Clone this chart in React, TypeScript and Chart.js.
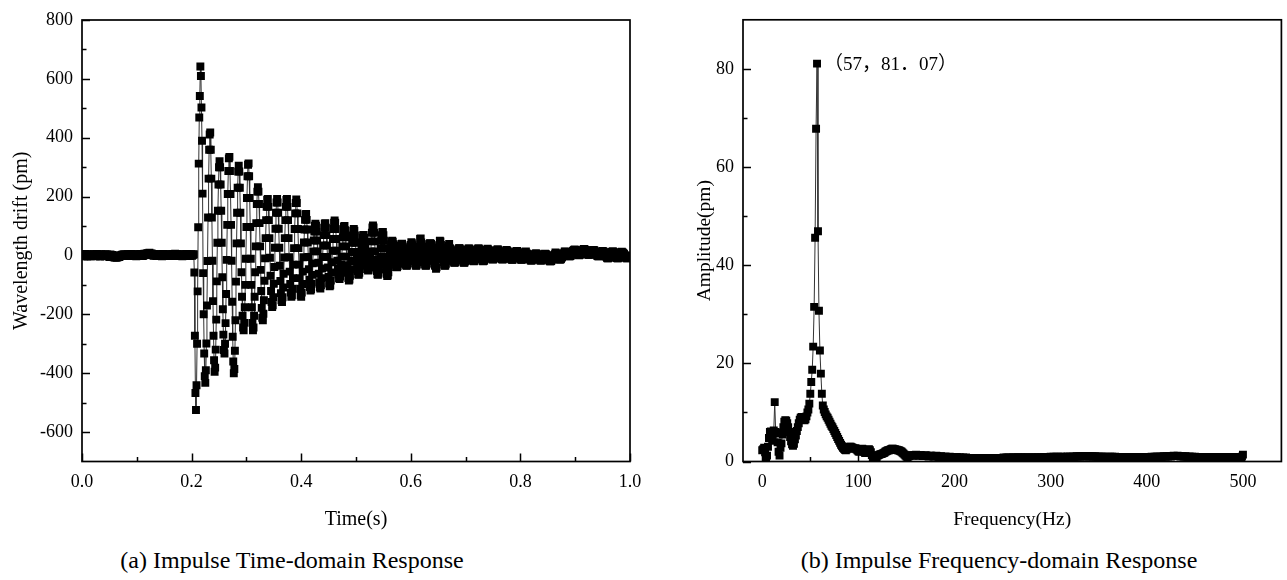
import React, { useEffect, useRef } from "react";
import { Chart, registerables } from "chart.js";

Chart.register(...registerables);

const SERIF = "'Liberation Serif', 'Times New Roman', serif";
const ANNOT_FONT = "'Liberation Serif', 'Noto Sans CJK SC', serif";

// ---------------- (a) time-domain response, sampled every 1 ms ----------------
const SAMPLE_INTERVAL_S = 0.001;

// 0.000 – 0.204 s : quiet baseline
const DRIFT_BEFORE_IMPULSE = [
  3, -2, 4, 1, -3, 2, 5, -1, 0, 3, -4, 2, 1, -2, 4, 0, -3, 3, 2, -1,
  1, 4, -2, 0, 3, -3, 2, 5, -1, 1, -2, 3, 0, -4, 2, 4, -1, 1, 3, -2,
  0, 2, -3, 4, 1, -1, 3, -2, 2, 0, -5, 1, 3, -3, -1, 2, -4, 0, -6, -2,
  -7, -3, -5, -8, -2, -6, -4, -1, -5, -3, 0, -2, 2, -1, 3, 1, -2, 4, 0, 2,
  -1, 3, 1, -2, 4, 2, 0, 3, -1, 2, 5, 1, -2, 3, 0, 4, -1, 2, 1, -3,
  2, 0, 4, -2, 1, 3, -1, 5, 2, 0, 3, -2, 4, 1, 6, 2, 5, 3, 7, 4,
  8, 5, 3, 9, 4, 6, 2, 7, 5, 1, 4, -1, 3, 2, 0, 4, -2, 1, 3, -1,
  2, 4, 0, -2, 3, 1, -3, 2, 5, 0, 3, -1, 2, 4, 1, -2, 3, 0, 2, -1,
  1, 3, -2, 4, 0, 2, 5, 1, -1, 3, 6, 2, 4, 0, 3, -2, 1, 4, 2, 0,
  -1, 3, 1, -3, 2, 4, 0, 2, -2, 3, 1, 5, 2, -1, 0, 3, 1, -2, 2, 4,
  1, -1, 3, 2, 4,
];

// 0.205 – 0.211 s : impulse onset
const DRIFT_ONSET = [-58, -273, -467, -525, -441, -300, -122];

// 0.212 – 0.386 s : strong ringing
const DRIFT_RING_A = [
  96, 312, 469, 542, 642, 610, 503, 390, 210,
  -60, -200, -333, -410, -433, -390, -299, -170, -19,
  129, 261, 359, 411, 418, 359, 261, 129,
  -18, -155, -273, -356, -395, -381, -320, -218, -88,
  43, 152, 241, 300, 320, 300, 241, 152, 43,
  -74, -183, -269, -321, -333, -300, -230, -131, -15,
  104, 209, 287, 330, 335, 287, 209, 104,
  -18, -157, -276, -360, -400, -386, -324, -220, -89,
  41, 145, 230, 285, 305, 285, 230, 145, 41,
  -57, -140, -205, -245, -254, -229, -176, -100, -11,
  97, 195, 269, 308, 313, 269, 195, 97,
  -11, -100, -176, -229, -254, -245, -205, -140, -57,
  31, 110, 175, 217, 232, 217, 175, 110, 31,
  -49, -121, -178, -212, -220, -198, -152, -86, -10,
  59, 120, 165, 189, 192, 165, 120, 59,
  -8, -69, -121, -158, -175, -169, -142, -96, -39,
  26, 91, 145, 180, 192, 180, 145, 91, 26,
  -35, -87, -128, -152, -158, -142, -109, -62, -7,
  59, 120, 165, 189, 192, 165, 120, 59,
  -6, -55, -97, -126, -140, -135, -113, -77, -31,
];

// 0.387 – 0.596 s : decaying ringing
const DRIFT_RING_B = [
  25, 90, 143, 178, 190, 178, 143, 90, 25,
  -31, -77, -113, -135, -140, -126, -97, -55, -6,
  44, 88, 121, 139, 141, 121, 88, 44,
  -5, -47, -82, -107, -119, -115, -96, -66, -27,
  14, 51, 81, 101, 108, 101, 81, 51, 14,
  -25, -62, -91, -108, -112, -101, -77, -44, -5,
  34, 69, 94, 108, 110, 94, 69, 34,
  -5, -41, -73, -95, -105, -101, -85, -58, -23,
  16, 56, 90, 111, 119, 111, 90, 56, 16,
  -18, -44, -65, -77, -80, -72, -55, -31, -4,
  31, 62, 86, 98, 100, 86, 62, 31,
  -4, -33, -59, -77, -85, -82, -69, -47, -19,
  12, 43, 68, 84, 90, 84, 68, 43, 12,
  -15, -36, -53, -64, -66, -59, -46, -26, -3,
  22, 44, 60, 69, 70, 60, 44, 22,
  -2, -20, -35, -46, -51, -49, -41, -28, -11,
  14, 48, 77, 95, 102, 95, 77, 48, 14,
  -15, -36, -53, -64, -66, -59, -46, -26, -3,
  25, 50, 69, 79, 80, 69, 50, 25,
  -3, -28, -48, -63, -70, -67, -57, -39, -16,
  7, 24, 38, 47, 50, 47, 38, 24, 7,
  -9, -22, -32, -39, -40, -36, -28, -16, -2,
  12, 25, 34, 39, 40, 34, 25, 12,
  -2, -14, -24, -32, -35, -34, -28, -19, -8,
];

// 0.597 – 0.775 s : residual vibration
const DRIFT_TAIL_A = [
  8, 20, 29, 36,
  45, 42, 35, 24, 10, -4, -17, -27, -34, -35, -31, -23, -11, 3, 17, 30, 56, 58, 44, 39, 30, 17, 3, -11, -23, -31, -35, -34, -27, -17, -4, 10, 24, 35, 42,
  41, 39, 32, 21, 8, -5, -18, -28, -34, -35, -45, -40, -12, 1, 15, 27, 36, 50, 48, 36, 27, 15, 1, -12, -23, -31, -35, -34, -28, -18, -5, 8, 21, 32, 39,
  25, 23, 19, 12, 3, -6, -14, -20, -24, -25, -23, -17, -10, -1, 8, 16, 21, 25, 25, 21, 16, 8, -1, -10, -17, -23, -25, -24, -20, -14, -6, 3, 12, 19, 23,
  24, 23, 19, 12, 5, -3, -10, -16, -19, -20, -18, -13, -7, 1, 9, 16, 21, 24, 24, 21, 16, 9, 1, -7, -13, -18, -20, -19, -16, -10, -3, 5, 12, 19, 23,
  20, 19, 16, 11, 5, -1, -6, -11, -13, -14, -12, -9, -4, 2, 8, 14, 18, 20, 20, 18, 14, 8, 2, -4, -9, -12, -14, -13, -11, -6, -1, 5, 11, 16, 19,
];

// 0.776 – 0.999 s : residual vibration
const DRIFT_TAIL_B = [
  15, 14, 11, 7, 2, -3, -8, -12, -14, -15, -14, -10, -6, -1, 5, 9, 13, 15, 15, 13, 9, 5, -1, -6, -10, -14, -15, -14, -12, -8, -3, 2, 7, 11, 14,
  7, 6, 4, 1, -3, -8, -12, -15, -17, -17, -16, -13, -10, -6, -1, 2, 5, 7, 7, 5, 2, -1, -6, -10, -13, -16, -17, -17, -15, -12, -8, -3, 1, 4, 6,
  4, 3, 1, -2, -6, -11, -15, -18, -20, -20, -19, -16, -13, -9, -5, -1, 2, 4, 10, 8, 5, 2, -3, -7, -10, -13, -14, -14, -12, -9, -5, 0, 4, 7, 9,
  14, 13, 11, 9, 6, 3, 0, -2, -3, -3, -2, 0, 3, 7, 11, 15, 17, 19, 20, 19, 17, 14, 10, 7, 4, 2, 1, 2, 3, 6, 9, 13, 16, 18, 20,
  22, 21, 19, 16, 13, 10, 6, 4, 2, 2, 3, 4, 6, 9, 13, 16, 18, 19, 18, 17, 14, 11, 7, 3, 0, -2, -3, -3, -2, 0, 3, 7, 10, 13, 15,
  14, 13, 11, 8, 4, -1, -5, -8, -10, -10, -9, -6, -3, 1, 6, 9, 12, 14, 14, 12, 9, 6, 1, -3, -6, -9, -10, -10, -8, -5, -1, 4, 8, 11, 13,
  10, 9, 8, 5, 1, -2, -6, -8, -10, -10, -9, -7, -4, 0,
];

// ---------------- (b) frequency-domain response, 1 Hz bins ----------------
const FREQ_STEP_HZ = 1;

// 0 – 100 Hz
const AMP_LOW = [
  2.3, 2.5, 2.8, 1.9, 0.6, 1.2, 3.0, 4.8, 6.0, 6.1,
  5.9, 4.2, 6.3, 12.1, 6.0, 5.8, 3.9, 2.0, 1.2, 2.8,
  3.7, 5.5, 7.0, 8.1, 8.4, 8.3, 7.8, 7.0, 6.0, 5.0,
  4.1, 3.5, 3.2, 3.6, 4.5, 5.3, 6.2, 7.0, 7.8, 8.5,
  8.9, 9.1, 8.9, 8.6, 8.4, 8.6, 9.2, 10.0, 10.6, 11.8,
  13.8, 16.2, 18.7, 23.4, 31.5, 45.6, 67.8, 81.07, 46.9, 30.7,
  22.6, 17.9, 13.8, 11.4, 10.6, 10.1, 9.6, 9.2, 8.9, 8.5,
  8.1, 7.7, 7.3, 7.0, 6.6, 6.2, 5.8, 5.4, 5.0, 4.6,
  4.2, 3.8, 3.4, 3.1, 2.8, 2.6, 2.4, 2.3, 2.5, 2.7,
  2.9, 3.0, 3.0, 2.9, 2.8, 2.7, 2.6, 2.7, 2.5, 2.3,
  2.1,
];

// 101 – 200 Hz
const AMP_MID = [
  2.0, 2.2, 2.5, 2.6, 2.4, 2.0, 1.7, 1.8, 2.1, 2.4,
  2.5, 2.3, 1.9, 1.3, 0.8, 0.5, 0.4, 0.6, 0.9, 1.2,
  1.3, 1.4, 1.5, 1.5, 1.6, 1.7, 1.8, 2.0, 2.1, 2.2,
  2.3, 2.3, 2.4, 2.5, 2.6, 2.6, 2.5, 2.5, 2.4, 2.4,
  2.3, 2.3, 2.2, 2.1, 2.0, 1.8, 1.6, 1.4, 1.2, 1.0,
  0.9, 1.0, 1.1, 1.2, 1.3, 1.3, 1.2, 1.2, 1.3, 1.4,
  1.3, 1.2, 1.2, 1.3, 1.3, 1.2, 1.1, 1.1, 1.2, 1.3,
  1.2, 1.1, 1.0, 1.1, 1.2, 1.2, 1.1, 1.0, 1.0, 1.1,
  1.2, 1.1, 1.0, 0.9, 1.0, 1.1, 1.0, 0.9, 0.9, 1.0,
  1.0, 0.9, 0.8, 0.9, 1.0, 0.9, 0.8, 0.8, 0.9, 0.9,
];

// 201 – 500 Hz
const AMP_HIGH = [
  0.8, 0.9, 0.8, 0.7, 0.8, 0.8, 0.7, 0.7, 0.8, 0.7,
  0.7, 0.8, 0.7, 0.6, 0.7, 0.7, 0.6, 0.7, 0.7, 0.6,
  0.6, 0.7, 0.6, 0.6, 0.7, 0.6, 0.6, 0.7, 0.6, 0.6,
  0.7, 0.6, 0.6, 0.6, 0.7, 0.6, 0.6, 0.7, 0.6, 0.7,
  0.6, 0.6, 0.7, 0.6, 0.6, 0.7, 0.7, 0.6, 0.7, 0.7,
  0.8, 0.7, 0.7, 0.8, 0.7, 0.8, 0.7, 0.7, 0.8, 0.7,
  0.8, 0.8, 0.7, 0.8, 0.7, 0.8, 0.8, 0.7, 0.8, 0.8,
  0.7, 0.8, 0.8, 0.7, 0.8, 0.8, 0.7, 0.8, 0.7, 0.8,
  0.8, 0.7, 0.8, 0.8, 0.7, 0.8, 0.8, 0.8, 0.7, 0.8,
  0.8, 0.8, 0.9, 0.8, 0.8, 0.9, 0.8, 0.9, 0.9, 1.0,
  0.9, 0.9, 1.0, 0.9, 0.9, 1.0, 0.9, 1.0, 0.9, 0.9,
  1.0, 0.9, 0.9, 1.0, 0.9, 0.9, 1.0, 1.0, 0.9, 1.0,
  0.9, 1.0, 1.0, 0.9, 1.0, 1.0, 1.1, 1.0, 1.0, 1.1,
  1.0, 1.1, 1.1, 1.0, 1.1, 1.1, 1.0, 1.1, 1.1, 1.0,
  1.1, 1.0, 1.1, 1.0, 1.0, 1.1, 1.0, 1.0, 0.9, 1.0,
  1.0, 0.9, 1.0, 1.0, 0.9, 1.0, 0.9, 0.9, 1.0, 0.9,
  0.9, 1.0, 0.9, 1.0, 0.9, 0.9, 1.0, 0.9, 0.9, 0.8,
  0.9, 0.9, 0.8, 0.9, 0.9, 0.8, 0.9, 0.8, 0.8, 0.9,
  0.8, 0.8, 0.9, 0.8, 0.8, 0.9, 0.8, 0.9, 0.8, 0.8,
  0.8, 0.9, 0.8, 0.8, 0.9, 0.8, 0.9, 0.9, 0.8, 0.9,
  0.9, 0.8, 0.9, 0.9, 1.0, 0.9, 0.9, 1.0, 0.9, 1.0,
  1.0, 0.9, 1.0, 1.0, 0.9, 1.0, 1.0, 1.1, 1.0, 1.0,
  1.1, 1.0, 1.1, 1.1, 1.0, 1.1, 1.1, 1.2, 1.1, 1.1,
  1.1, 1.2, 1.1, 1.1, 1.0, 1.1, 1.1, 1.0, 1.0, 1.1,
  1.0, 1.0, 0.9, 1.0, 1.0, 0.9, 1.0, 0.9, 0.9, 1.0,
  0.9, 0.9, 0.8, 0.9, 0.9, 0.8, 0.9, 0.9, 0.8, 0.9,
  0.8, 0.9, 0.9, 0.8, 0.8, 0.9, 0.8, 0.8, 0.9, 0.8,
  0.8, 0.9, 0.8, 0.8, 0.8, 0.9, 0.8, 0.8, 0.9, 0.8,
  0.8, 0.8, 0.9, 0.8, 0.8, 0.9, 0.8, 0.8, 0.8, 0.9,
  0.8, 0.8, 0.9, 0.8, 0.8, 0.9, 0.8, 0.9, 1.0, 1.4,
];

const PEAK_FREQ = 57;
const PEAK_AMP = 81.07;
const PEAK_LABEL = "（57，81．07）";

// ticks
const TIME_MAJOR = [0, 0.2, 0.4, 0.6, 0.8, 1.0];
const TIME_MINOR = [0.1, 0.3, 0.5, 0.7, 0.9];
const DRIFT_MAJOR = [-600, -400, -200, 0, 200, 400, 600, 800];
const DRIFT_MINOR = [-500, -300, -100, 100, 300, 500, 700];
const FREQ_MAJOR = [0, 100, 200, 300, 400, 500];
const FREQ_MINOR = [50, 150, 250, 350, 450];
const AMP_MAJOR = [0, 20, 40, 60, 80];
const AMP_MINOR = [10, 30, 50, 70];

function frameTicksPlugin(xMajor: number[], xMinor: number[], yMajor: number[], yMinor: number[]) {
  return {
    id: "frameTicks",
    afterDatasetsDraw(chart: any) {
      const { ctx, chartArea: a, scales } = chart;
      const xs = scales.x;
      const ys = scales.y;
      ctx.save();
      ctx.strokeStyle = "#000";
      ctx.lineWidth = 1.5;
      ctx.beginPath();
      const tick = (len: number, vals: number[], horiz: boolean) => {
        for (const v of vals) {
          if (horiz) {
            const px = Math.round(xs.getPixelForValue(v)) + 0.5;
            ctx.moveTo(px, a.bottom);
            ctx.lineTo(px, a.bottom - len);
          } else {
            const py = Math.round(ys.getPixelForValue(v)) + 0.5;
            ctx.moveTo(a.left, py);
            ctx.lineTo(a.left + len, py);
          }
        }
      };
      tick(8, xMajor, true);
      tick(4.5, xMinor, true);
      tick(8, yMajor, false);
      tick(4.5, yMinor, false);
      ctx.stroke();
      ctx.lineWidth = 1.7;
      ctx.strokeRect(a.left, a.top, a.right - a.left, a.bottom - a.top);
      ctx.restore();
    },
  };
}

const peakLabelPlugin = {
  id: "peakLabel",
  afterDatasetsDraw(chart: any) {
    const { ctx, scales } = chart;
    const x = scales.x.getPixelForValue(PEAK_FREQ);
    const y = scales.y.getPixelForValue(PEAK_AMP);
    ctx.save();
    ctx.fillStyle = "#000";
    ctx.font = `19px ${ANNOT_FONT}`;
    ctx.textAlign = "left";
    ctx.textBaseline = "middle";
    ctx.fillText(PEAK_LABEL, x + 7, y + 1);
    ctx.restore();
  },
};

function buildOptions(cfg: {
  xMin: number; xMax: number; yMin: number; yMax: number;
  xMajor: number[]; yMajor: number[];
  xTitle: string; yTitle: string;
  yWidth: number; xHeight: number; yTitlePad: number;
  padTop: number; padRight: number; titleSize: number;
  xFmt: (v: number) => string;
}) {
  const tickFont = { family: SERIF, size: 18 };
  const titleFont = { family: SERIF, size: cfg.titleSize };
  return {
    animation: false,
    responsive: false,
    maintainAspectRatio: false,
    devicePixelRatio: 1,
    layout: { padding: { left: 0, right: cfg.padRight, top: cfg.padTop, bottom: 0 } },
    plugins: { legend: { display: false }, tooltip: { enabled: false } },
    events: [],
    scales: {
      x: {
        type: "linear",
        min: cfg.xMin,
        max: cfg.xMax,
        grid: { display: false, drawTicks: false },
        border: { display: false },
        ticks: {
          font: tickFont, color: "#000", padding: 10, maxRotation: 0, autoSkip: false,
          callback: (v: any) => cfg.xFmt(Number(v)),
        },
        afterBuildTicks: (s: any) => { s.ticks = cfg.xMajor.map((value) => ({ value })); },
        afterFit: (s: any) => { s.height = cfg.xHeight; },
        title: { display: true, text: cfg.xTitle, font: titleFont, color: "#000", padding: { top: 0, bottom: 8 } },
      },
      y: {
        type: "linear",
        min: cfg.yMin,
        max: cfg.yMax,
        grid: { display: false, drawTicks: false },
        border: { display: false },
        ticks: {
          font: tickFont, color: "#000", padding: 9, autoSkip: false,
          callback: (v: any) => String(v),
        },
        afterBuildTicks: (s: any) => { s.ticks = cfg.yMajor.map((value) => ({ value })); },
        afterFit: (s: any) => { s.width = cfg.yWidth; },
        title: { display: true, text: cfg.yTitle, font: titleFont, color: "#000", padding: { top: cfg.yTitlePad, bottom: 0 } },
      },
    },
  };
}

function dataset(points: { x: number; y: number }[]) {
  return {
    data: points,
    borderColor: "#333",
    borderWidth: 1,
    pointStyle: "rect",
    pointRadius: 5.6,
    pointHoverRadius: 5.6,
    pointBackgroundColor: "#000",
    pointBorderWidth: 0,
    tension: 0,
    clip: 0,
  };
}

export default function App() {
  const leftRef = useRef<HTMLCanvasElement | null>(null);
  const rightRef = useRef<HTMLCanvasElement | null>(null);

  useEffect(() => {
    const drift = [
      ...DRIFT_BEFORE_IMPULSE, ...DRIFT_ONSET, ...DRIFT_RING_A,
      ...DRIFT_RING_B, ...DRIFT_TAIL_A, ...DRIFT_TAIL_B,
    ];
    const timePts = drift.map((y, i) => ({ x: i * SAMPLE_INTERVAL_S, y }));
    const amps = [...AMP_LOW, ...AMP_MID, ...AMP_HIGH];
    const freqPts = amps.map((y, i) => ({ x: i * FREQ_STEP_HZ, y }));

    const left = new Chart(leftRef.current as HTMLCanvasElement, {
      type: "line",
      data: { datasets: [dataset(timePts) as any] },
      options: buildOptions({
        xMin: 0, xMax: 1, yMin: -700, yMax: 800,
        xMajor: TIME_MAJOR, yMajor: DRIFT_MAJOR,
        xTitle: "Time(s)", yTitle: "Wavelength drift (pm)",
        yWidth: 82, xHeight: 78.5, yTitlePad: 10,
        padTop: 20, padRight: 30, titleSize: 20,
        xFmt: (v) => v.toFixed(1),
      }) as any,
      plugins: [frameTicksPlugin(TIME_MAJOR, TIME_MINOR, DRIFT_MAJOR, DRIFT_MINOR)],
    });

    const right = new Chart(rightRef.current as HTMLCanvasElement, {
      type: "line",
      data: { datasets: [dataset(freqPts) as any] },
      options: buildOptions({
        xMin: -20, xMax: 540, yMin: 0, yMax: 90,
        xMajor: FREQ_MAJOR, yMajor: AMP_MAJOR,
        xTitle: "Frequency(Hz)", yTitle: "Amplitude(pm)",
        yWidth: 83, xHeight: 78.5, yTitlePad: 33,
        padTop: 16, padRight: 1, titleSize: 19.5,
        xFmt: (v) => String(v),
      }) as any,
      plugins: [frameTicksPlugin(FREQ_MAJOR, FREQ_MINOR, AMP_MAJOR, AMP_MINOR), peakLabelPlugin],
    });

    return () => {
      left.destroy();
      right.destroy();
    };
  }, []);

  const captionStyle: React.CSSProperties = {
    position: "absolute",
    top: 545,
    width: 520,
    textAlign: "center",
    fontFamily: SERIF,
    fontSize: 24,
    lineHeight: "30px",
    color: "#000",
    whiteSpace: "nowrap",
  };

  return (
    <div style={{ position: "absolute", left: 0, top: 0, width: 1287, height: 580, background: "#fff", overflow: "hidden" }}>
      <canvas ref={leftRef} width={660} height={540} style={{ position: "absolute", left: 0, top: 0, width: 660, height: 540 }} />
      <canvas ref={rightRef} width={627} height={540} style={{ position: "absolute", left: 660, top: 0, width: 627, height: 540 }} />
      <div style={{ ...captionStyle, left: 292 - 260 }}>(a) Impulse Time-domain Response</div>
      <div style={{ ...captionStyle, left: 999 - 260 }}>(b) Impulse Frequency-domain Response</div>
    </div>
  );
}
